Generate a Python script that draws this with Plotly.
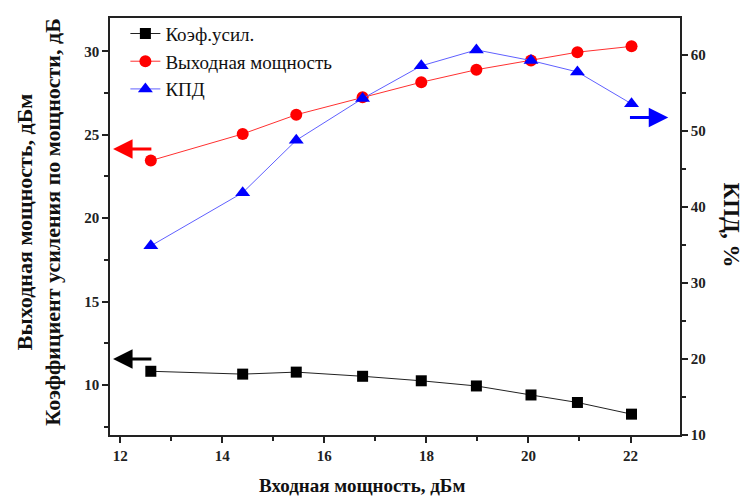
import plotly.graph_objects as go

# ---- data ----
p_in = [12.6, 14.4, 15.45, 16.75, 17.9, 18.98, 20.05, 20.96, 22.02]
gain = [10.82, 10.65, 10.77, 10.52, 10.25, 9.94, 9.4, 8.95, 8.25]
p_out = [23.45, 25.05, 26.2, 27.25, 28.15, 28.9, 29.45, 29.95, 30.3]
eff = [34.9, 41.9, 48.8, 54.3, 58.6, 60.7, 59.3, 57.8, 53.6]

names = ["Коэф.усил.", "Выходная мощность", "КПД"]
x_title = "Входная мощность, дБм"
y_title = "Выходная мощность, дБм<br>Коэффициент усиления по мощности, дБ"
y2_title = "КПД, %"

FONT = "Liberation Serif, Times New Roman, serif"

fig = go.Figure()
fig.add_trace(go.Scatter(x=p_in, y=gain, name=names[0], mode="lines+markers",
                         line=dict(color="#222222", width=1),
                         marker=dict(symbol="square", size=11, color="black")))
fig.add_trace(go.Scatter(x=p_in, y=p_out, name=names[1], mode="lines+markers",
                         line=dict(color="#ff3030", width=1),
                         marker=dict(symbol="circle", size=12, color="#ff0000")))
fig.add_trace(go.Scatter(x=p_in, y=eff, name=names[2], mode="lines+markers", yaxis="y2",
                         line=dict(color="#6060ff", width=1),
                         marker=dict(symbol="triangle-up", size=13, color="#0000ff")))

axis_common = dict(showline=True, linecolor="#222222", linewidth=1.5, ticks="outside",
                   ticklen=6, tickwidth=1.5, tickcolor="#222222", showgrid=False, zeroline=False,
                   tickfont=dict(family=FONT, size=15, color="#222222", weight="bold"))

fig.update_layout(
    width=744, height=499,
    margin=dict(l=110, r=64, t=18, b=64),
    paper_bgcolor="white", plot_bgcolor="white",
    font=dict(family=FONT),
    showlegend=True,
    legend=dict(x=0.027, y=1.008, xanchor="left", yanchor="top", bgcolor="rgba(0,0,0,0)",
                font=dict(family=FONT, size=19, color="#111111"), tracegroupgap=0),
    xaxis=dict(range=[11.8, 22.97], dtick=2, tick0=0, mirror=True,
               minor=dict(ticks="outside", ticklen=4, dtick=1, tick0=0, tickcolor="#222222", tickwidth=1.5),
               **axis_common),
    yaxis=dict(range=[7, 32], dtick=5, tick0=0,
               minor=dict(ticks="outside", ticklen=4, dtick=2.5, tick0=0, tickcolor="#222222", tickwidth=1.5),
               **axis_common),
    yaxis2=dict(range=[10, 64.9], dtick=10, tick0=0, overlaying="y", side="right",
                minor=dict(ticks="outside", ticklen=4, dtick=5, tick0=0, tickcolor="#222222", tickwidth=1.5),
                **axis_common),
)

fig.add_annotation(text=x_title, xref="paper", yref="paper", x=0.442, y=-0.12,
                   xanchor="center", yanchor="middle", showarrow=False,
                   font=dict(family=FONT, size=19, color="#111111", weight="bold"))
fig.add_annotation(text=y_title, xref="paper", yref="paper", x=-0.125, y=0.511,
                   xanchor="center", yanchor="middle", textangle=-90, showarrow=False,
                   font=dict(family=FONT, size=22, color="#111111", weight="bold"))
fig.add_annotation(text=y2_title, xref="paper", yref="paper", x=1.09, y=0.504,
                   xanchor="center", yanchor="middle", textangle=90, showarrow=False,
                   font=dict(family=FONT, size=23, color="#111111", weight="bold"))

# direction arrows
arrow_common = dict(text="", showarrow=True, arrowhead=2, arrowsize=1.3, arrowwidth=3,
                    axref="x", xref="x")
fig.add_annotation(x=11.86, y=24.15, ax=12.64, ay=24.15, yref="y", ayref="y",
                   arrowcolor="#ff0000", **arrow_common)
fig.add_annotation(x=11.86, y=11.55, ax=12.64, ay=11.55, yref="y", ayref="y",
                   arrowcolor="black", **arrow_common)
fig.add_annotation(x=22.74, y=51.8, ax=21.96, ay=51.8, yref="y2", ayref="y2",
                   arrowcolor="#0000ff", **arrow_common)

fig.write_html("out.html")
